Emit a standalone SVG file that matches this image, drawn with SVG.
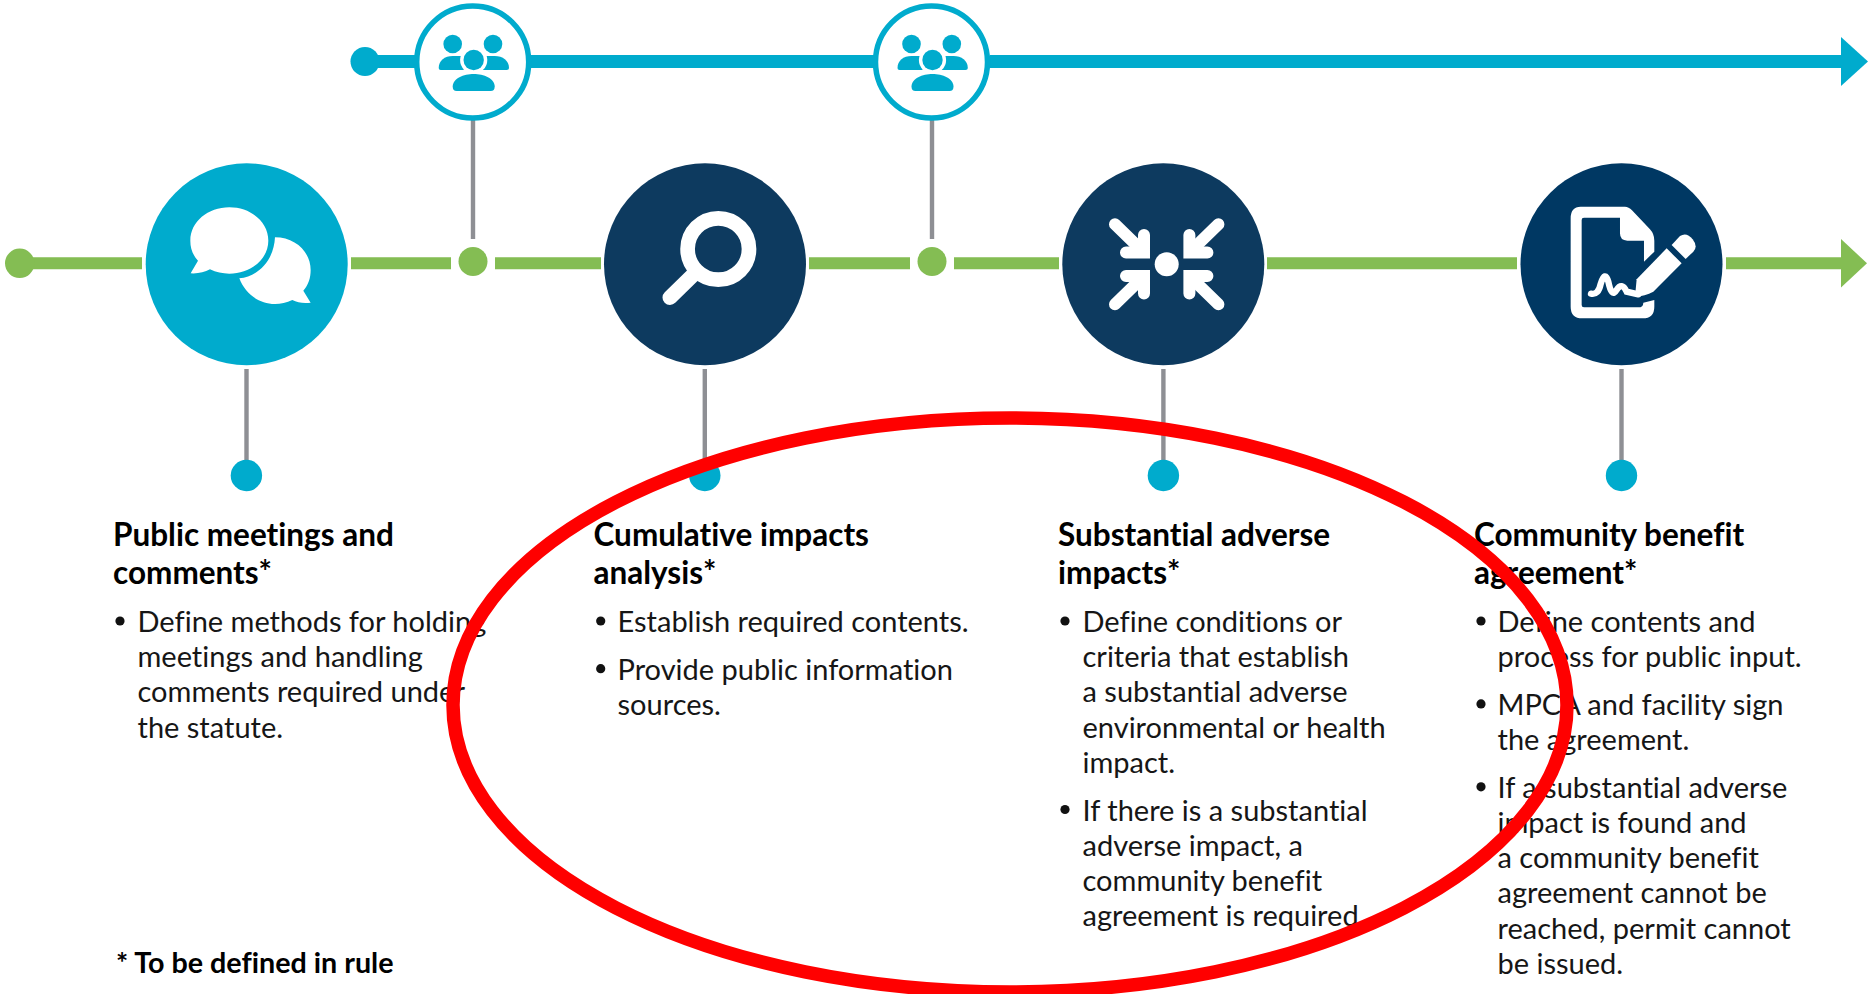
<svg xmlns="http://www.w3.org/2000/svg" width="1870" height="994" viewBox="0 0 1870 994">
<style>
text{font-family:"Lato","Liberation Sans",sans-serif;fill:#161616;font-variant-ligatures:none}
.h{font-size:31.5px;font-weight:700;fill:#000}
.b{font-size:29px;font-weight:400}
.f{font-size:28.7px;font-weight:700;fill:#000}
.g{stroke:#84BD53;stroke-width:12;fill:none}
.u{stroke:#00ABCD;stroke-width:13;fill:none}
.y{stroke:#8E8F94;stroke-width:4.4;fill:none}
.gd{fill:#84BD53}.bd{fill:#00ABCD}
.dot{fill:#111}
.w{fill:#fff}
.ws{fill:none;stroke:#fff;stroke-linecap:round}
</style>
<defs>
<g id="people" fill="#00ABCD">
<circle cx="-20" cy="-17.5" r="9.3"/>
<circle cx="20.3" cy="-17.5" r="9.3"/>
<path d="M-34,6.5 C-34,-1 -28,-5.5 -20,-5.5 H-9 V8.5 H-32 Q-34,8.5 -34,6.5 Z"/>
<path d="M36.3,6.5 C36.3,-1 30,-5.5 22,-5.5 H10 V8.5 H34 Q36.3,8.5 36.3,6.5 Z"/>
<circle cx="1" cy="-1.5" r="13.6" fill="#fff"/>
<circle cx="1" cy="-1.5" r="10.2"/>
<path d="M-20,25 C-20,17 -9,12.5 1,12.5 C11,12.5 22,17 22,25 Q22,29.5 18,29.5 H-16 Q-20,29.5 -20,25 Z"/>
</g>
<g id="arrow">
<path d="M-51.7,-40L-25,-14"/>
<path d="M-22.7,-29.3V-11.7H-40.7"/>
</g>
</defs>
<g id="connectors">
<path class="u" d="M365,61.5H420M530,61.5H880M990,61.5H1842"/>
<path class="bd" d="M1841,37L1868,61.5L1841,86Z"/>
<circle class="bd" cx="365" cy="61.5" r="14.5"/>
<path class="g" d="M19,263.3H142M351,263.3H451M495,263.3H601M809,263.3H910M954,263.3H1059M1267,263.3H1517M1726,263.3H1842"/>
<path class="gd" d="M1841,239L1867,263.3L1841,287.5Z"/>
<circle class="gd" cx="19.7" cy="263.3" r="14.7"/>
<path class="y" d="M473,120V239M932,120V239M246.5,369V462M704.8,369V462M1163.4,369V462M1621.5,369V462"/>
<circle class="gd" cx="473" cy="261.5" r="14.5"/>
<circle class="gd" cx="932" cy="261.5" r="14.5"/>
<circle class="bd" cx="246.4" cy="475.5" r="15.7"/>
<circle class="bd" cx="704.8" cy="475.5" r="15.7"/>
<circle class="bd" cx="1163.4" cy="475.5" r="15.7"/>
<circle class="bd" cx="1621.5" cy="475.5" r="15.7"/>
</g>
<g id="meeting-1">
<circle cx="472.7" cy="62" r="56" fill="#fff" stroke="#00ABCD" stroke-width="5.5"/>
<use href="#people" x="472.7" y="61.5"/>
</g>
<g id="meeting-2">
<circle cx="931.5" cy="62" r="56" fill="#fff" stroke="#00ABCD" stroke-width="5.5"/>
<use href="#people" x="931.5" y="61.5"/>
</g>
<g id="public-meetings">
<circle cx="246.7" cy="264.3" r="101" fill="#00ABCD"/>
<g transform="translate(130 150) scale(.3333)">
<path class="w" d="M435,262 C495,262 542,305 542,360 C542,385 535,405 520,422 L542,458 Q510,462 487,450 C470,458 452,462 435,462 C385,462 345,430 328,385 C385,380 432,330 435,262Z"/>
<path class="w" d="M298,172 C362,172 415,215 415,272 C415,328 362,371 298,371 C278,371 258,367 240,358 Q215,372 182,370 L204,332 C188,315 181,295 181,272 C181,215 234,172 298,172Z"/>
</g>
<text class="h" x="113" y="546">Public meetings and</text>
<text class="h" x="113" y="584">comments*</text>
<circle class="dot" cx="120" cy="621" r="4.6"/>
<text class="b" x="137.5" y="632">Define methods for holding</text>
<text class="b" x="137.5" y="667.2">meetings and handling</text>
<text class="b" x="137.5" y="702.4">comments required under</text>
<text class="b" x="137.5" y="737.6">the statute.</text>
</g>
<g id="cumulative-impacts">
<circle cx="705" cy="264.3" r="101" fill="#0D3A5F"/>
<circle cx="718.3" cy="249" r="30.7" fill="none" stroke="#fff" stroke-width="14.7"/>
<path class="ws" stroke-width="15" d="M670,297.5L692,276"/>
<text class="h" x="593.5" y="546">Cumulative impacts</text>
<text class="h" x="593.5" y="584">analysis*</text>
<circle class="dot" cx="600.7" cy="621" r="4.6"/>
<text class="b" x="617.5" y="632">Establish required contents.</text>
<circle class="dot" cx="600.7" cy="668.7" r="4.6"/>
<text class="b" x="617.5" y="679.7">Provide public information</text>
<text class="b" x="617.5" y="714.9">sources.</text>
</g>
<g id="substantial-impacts">
<circle cx="1163.3" cy="264.3" r="101" fill="#0D3A5F"/>
<circle class="w" cx="1166.7" cy="264.3" r="12"/>
<g transform="translate(1166.7 264.3)" fill="none" stroke="#fff" stroke-width="12" stroke-linecap="round">
<use href="#arrow"/>
<use href="#arrow" transform="scale(-1 1)"/>
<use href="#arrow" transform="scale(1 -1)"/>
<use href="#arrow" transform="scale(-1 -1)"/>
</g>
<text class="h" x="1058" y="546">Substantial adverse</text>
<text class="h" x="1058" y="584">impacts*</text>
<circle class="dot" cx="1065" cy="621" r="4.6"/>
<text class="b" x="1082.5" y="632">Define conditions or</text>
<text class="b" x="1082.5" y="667.2">criteria that establish</text>
<text class="b" x="1082.5" y="702.4">a substantial adverse</text>
<text class="b" x="1082.5" y="737.6">environmental or health</text>
<text class="b" x="1082.5" y="772.8">impact.</text>
<circle class="dot" cx="1065" cy="809.5" r="4.6"/>
<text class="b" x="1082.5" y="820.5">If there is a substantial</text>
<text class="b" x="1082.5" y="855.7">adverse impact, a</text>
<text class="b" x="1082.5" y="890.9">community benefit</text>
<text class="b" x="1082.5" y="926.1">agreement is required</text>
</g>
<g id="community-benefit">
<circle cx="1621.5" cy="264.3" r="101" fill="#003863"/>
<g transform="translate(1510 150) scale(.3333)">
<path class="w" d="M212,170H345Q356,170 366,181L420,238Q433,252 433,272V305L402,335V272H352Q330,272 330,250V203H222Q215,203 215,210V465Q215,472 222,472H385Q400,472 400,458L433,450V470Q433,505 398,505H217Q182,505 182,470V205Q182,170 212,170Z"/>
<path class="w" d="M470,295L515,340L430,425Q405,438 375,440L380,388Z"/>
<path class="w" d="M485,285L510,258Q530,245 548,268Q565,290 550,305L527,327Z"/>
<path class="ws" stroke-width="19" d="M243,431Q265,436 272,402Q285,360 295,395Q305,445 320,420Q335,395 350,425L385,433"/>
</g>
<text class="h" x="1474" y="546">Community benefit</text>
<text class="h" x="1474" y="584">agreement*</text>
<circle class="dot" cx="1481" cy="621" r="4.6"/>
<text class="b" x="1497.5" y="632">Define contents and</text>
<text class="b" x="1497.5" y="667.2">process for public input.</text>
<circle class="dot" cx="1481" cy="703.9" r="4.6"/>
<text class="b" x="1497.5" y="714.9">MPCA and facility sign</text>
<text class="b" x="1497.5" y="750.1">the agreement.</text>
<circle class="dot" cx="1481" cy="786.8" r="4.6"/>
<text class="b" x="1497.5" y="797.8">If a substantial adverse</text>
<text class="b" x="1497.5" y="833">impact is found and</text>
<text class="b" x="1497.5" y="868.2">a community benefit</text>
<text class="b" x="1497.5" y="903.4">agreement cannot be</text>
<text class="b" x="1497.5" y="938.6">reached, permit cannot</text>
<text class="b" x="1497.5" y="973.8">be issued.</text>
</g>
<g id="footnote"><text class="f" x="116" y="973">* To be defined in rule</text></g>
<ellipse id="highlight" cx="1010" cy="705" rx="557" ry="287" fill="none" stroke="#FF0000" stroke-width="13.5"/>
</svg>
